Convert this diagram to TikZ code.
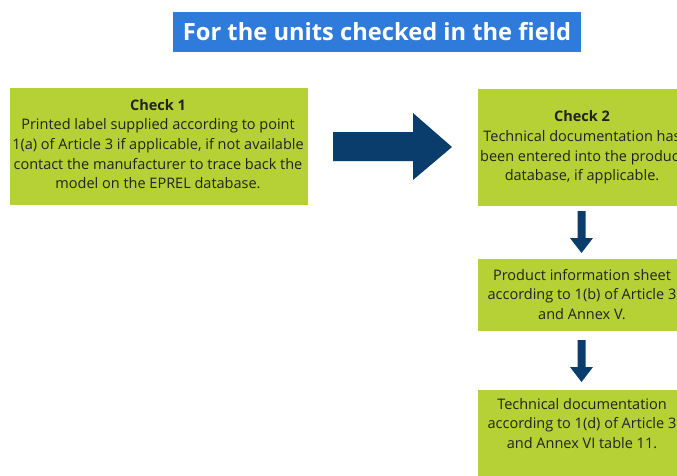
\documentclass[tikz,border=0pt]{standalone}
\usepackage{fontspec}
\setmainfont{Open Sans}
\newfontfamily\titlefont{Open Sans}
\definecolor{boxgreen}{HTML}{B5D135}
\definecolor{titleblue}{HTML}{2F7BDB}
\definecolor{navy}{HTML}{0A3D6B}
\definecolor{txt}{HTML}{222222}
\begin{document}
\begin{tikzpicture}[x=1pt,y=-1pt,
  gbox/.style={fill=boxgreen,draw=none},
  btext/.style={text=txt,align=center,font=\fontsize{14.5}{19.6}\selectfont,inner sep=0pt},
  arr/.style={fill=navy,draw=none}]
\useasboundingbox (0,0) rectangle (677,475);
\clip (0,0) rectangle (677,475);
% title
\node[fill=titleblue,minimum width=408,minimum height=40,inner sep=0pt,
  text=white,font=\titlefont\bfseries\fontsize{23.7}{28}\selectfont] (title) at (377,32) {For the units checked in the field};
% boxes
\fill[gbox] (10,88) rectangle (308,205);
\node[btext] (c1) at (158,144) {\textbf{Check 1}\\Printed label supplied according to point\\1(a) of Article 3 if applicable, if not available\\contact the manufacturer to trace back the\\model on the EPREL database.};
\fill[gbox] (478,89) rectangle (690,206);
\node[btext] (c2) at (582,147.5) {\textbf{Check 2}\\Technical documentation has\\been entered into the product\\database, if applicable.};
\fill[gbox] (478,259) rectangle (690,331);
\node[btext] (c3) at (582,294.5) {Product information sheet\\according to 1(b) of Article 3\\and Annex V.};
\fill[gbox] (478,390) rectangle (690,480);
\node[btext] (c4) at (582,423.5) {Technical documentation\\according to 1(d) of Article 3\\and Annex VI table 11.};
% arrows
\fill[arr] (333,132) -- (413,132) -- (413,113) -- (452,147) -- (413,180) -- (413,161) -- (333,161) -- cycle;
\fill[arr] (577.5,211) -- (585.5,211) -- (585.5,238) -- (593,238) -- (581.5,253) -- (570,238) -- (577.5,238) -- cycle;
\fill[arr] (577.5,340) -- (585.5,340) -- (585.5,367) -- (593,367) -- (581.5,382) -- (570,367) -- (577.5,367) -- cycle;
\end{tikzpicture}
\end{document}
